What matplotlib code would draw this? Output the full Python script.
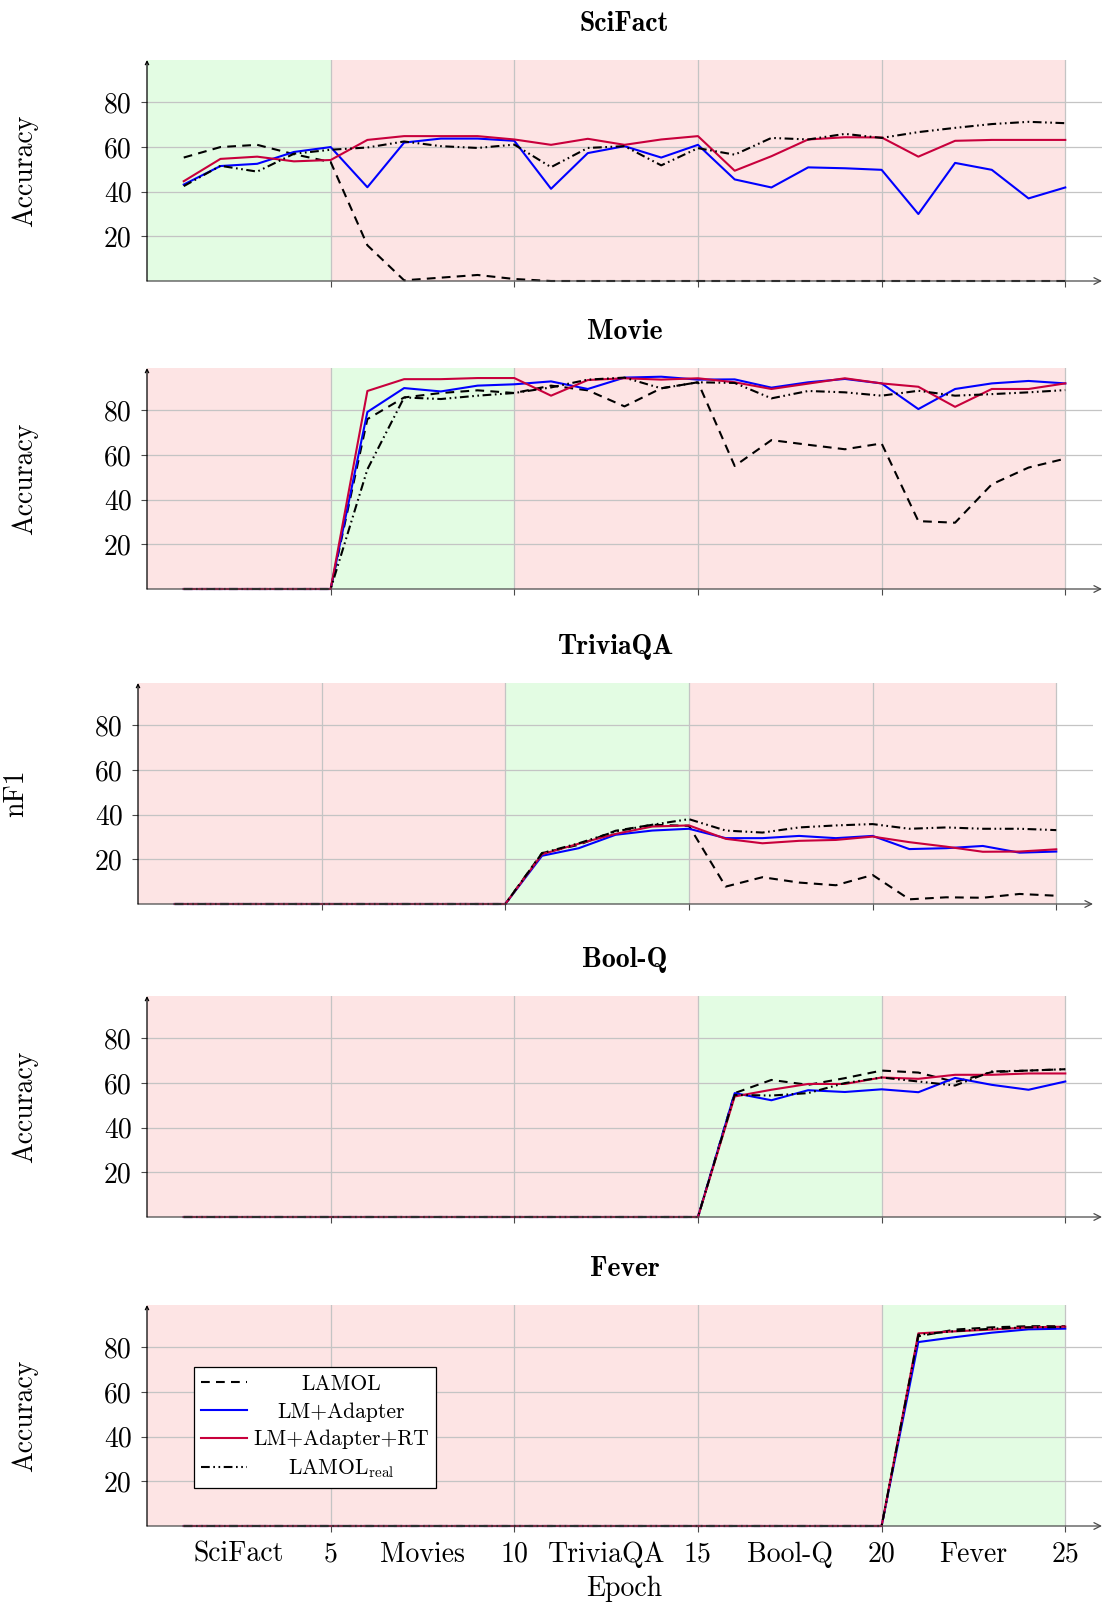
import numpy as np
import matplotlib
matplotlib.use('Agg')
import matplotlib.pyplot as plt
from matplotlib.lines import Line2D

plt.rcParams['font.family'] = 'cmr10'
plt.rcParams['mathtext.fontset'] = 'cm'
plt.rcParams['axes.formatter.use_mathtext'] = True

epochs = np.arange(1, 26)
tasks = ['SciFact', 'Movie', 'TriviaQA', 'Bool-Q', 'Fever']
tick_tasks = ['SciFact', 'Movies', 'TriviaQA', 'Bool-Q', 'Fever']
ylabels = ['Accuracy', 'Accuracy', 'nF1', 'Accuracy', 'Accuracy']

# SciFact
sf_lamol = [55.3, 60, 61, 56.8, 53.3, 16, 0.3, 1.5, 2.7, 0.9, 0, 0, 0, 0, 0, 0, 0, 0, 0, 0, 0, 0, 0, 0, 0]
sf_adapter = [43.2, 51.5, 52.5, 57.8, 60, 42, 62, 63.8, 63.8, 62.8, 41.3, 57.3, 60.4, 55.3, 61,
              45.5, 41.9, 50.9, 50.5, 49.8, 30, 52.9, 49.8, 37, 41.9]
sf_rt = [44.7, 54.7, 55.7, 53.6, 54.2, 63.2, 64.9, 64.9, 64.9, 63.4, 61, 63.7, 61, 63.4, 64.9,
         49.4, 55.9, 63.4, 64.4, 64.3, 55.7, 62.8, 63.2, 63.2, 63.2]
sf_real = [42.5, 51.6, 49, 57, 58.8, 59.8, 62.5, 60.4, 59.6, 61.1, 51, 59.6, 60.4, 51.8, 59.5,
           56.6, 64.1, 63.4, 65.9, 64.1, 66.7, 68.6, 70.3, 71.3, 70.7]

# Movie
mv_lamol = [0, 0, 0, 0, 0, 76.1, 85.8, 87.8, 89, 87.8, 91.1, 89, 81.8, 89.9, 92.6,
            55.1, 66.7, 64.6, 62.6, 65.2, 30.4, 29.7, 46.9, 54.4, 58.4]
mv_adapter = [0, 0, 0, 0, 0, 79.3, 90, 88.5, 91.1, 91.7, 93, 89.6, 94.7, 95.1, 93.8,
              93.9, 90.2, 92.6, 94.1, 92.1, 80.6, 89.6, 92.1, 93.2, 92.1]
mv_rt = [0, 0, 0, 0, 0, 88.7, 94, 94, 94.5, 94.5, 86.6, 93.6, 94.4, 93.8, 94.4,
         92.6, 89.6, 92, 94.4, 92.1, 90.6, 81.6, 89.6, 89.6, 92.1]
mv_real = [0, 0, 0, 0, 0, 53.6, 85.8, 85.1, 86.6, 87.8, 90.3, 93.8, 94.7, 89.9, 92.6,
           92.3, 85.4, 88.7, 88.1, 86.6, 88.8, 86.6, 87.3, 88.1, 89.1]

# TriviaQA
tq_lamol = [0] * 10 + [22.8, 26.5, 32.8, 35.5, 35, 7.8, 12, 9.6, 8.4, 13, 2.1, 3, 2.8, 4.5, 3.7]
tq_adapter = [0] * 10 + [21.6, 25, 31, 32.9, 33.7, 29.5, 29.5, 30.5, 29.5, 30.5, 24.6, 25, 26, 23, 23.5]
tq_rt = [0] * 10 + [22.3, 27, 31.4, 34.7, 35.2, 29.2, 27.2, 28.3, 28.7, 30.2, 27.7, 25.7, 23.4, 23.5, 24.5]
tq_real = [0] * 10 + [22.8, 27.2, 32.5, 35.5, 38, 32.9, 32, 34.3, 35.2, 35.8, 33.7, 34.3, 33.7, 33.7, 33.1]

# Bool-Q
bq_lamol = [0] * 15 + [55.5, 61.4, 59.2, 62.2, 65.6, 64.7, 60.5, 64.9, 65.6, 66.2]
bq_adapter = [0] * 15 + [55.5, 52.3, 56.8, 56, 57.2, 55.9, 62.3, 59.2, 57, 60.7]
bq_rt = [0] * 15 + [54, 57, 59.6, 59.6, 62.5, 61.9, 63.7, 63.7, 64.3, 64.3]
bq_real = [0] * 15 + [54.7, 54.4, 55.5, 60, 62.5, 60.7, 58.9, 65.2, 65.6, 66.2]

# Fever
fv_lamol = [0] * 20 + [85, 88, 89, 89.5, 89.5]
fv_adapter = [0] * 20 + [82.4, 84.6, 86.6, 88.1, 88.4]
fv_rt = [0] * 20 + [86.3, 87.2, 88, 89, 89.3]
fv_real = [0] * 20 + [85.7, 87.3, 88.4, 89, 89.1]

lamol_all = [sf_lamol, mv_lamol, tq_lamol, bq_lamol, fv_lamol]
adapter_all = [sf_adapter, mv_adapter, tq_adapter, bq_adapter, fv_adapter]
rt_all = [sf_rt, mv_rt, tq_rt, bq_rt, fv_rt]
real_all = [sf_real, mv_real, tq_real, bq_real, fv_real]

W, H = 1103, 1602
fig = plt.figure(figsize=(W / 100, H / 100), dpi=100)

pink = '#fde4e4'
green = '#e3fce3'
red = '#c8003c'
axcol = '#4a4a4a'
gridcol = '#c4c4c4'
FS = 20
LW = 1.5

bottoms_px = [281, 589, 904, 1217, 1526]
lefts_px = [147, 147, 138, 147, 147]
ax_w = 955
ax_h = 221

axes = []
for i in range(5):
    ax = fig.add_axes([lefts_px[i] / W, 1 - bottoms_px[i] / H, ax_w / W, ax_h / H])
    axes.append(ax)
    ax.set_xlim(0, 26)
    ax.set_ylim(0, 99)
    # shaded task segments
    for k in range(5):
        ax.axvspan(5 * k, 5 * k + 5, color=green if k == i else pink, lw=0, zorder=0)
    for yv in [20, 40, 60, 80]:
        ax.axhline(yv, color=gridcol, lw=0.9, zorder=1)
    for xv in [5, 10, 15, 20, 25]:
        ax.axvline(xv, color=gridcol, lw=0.9, zorder=1)

    ax.plot(epochs, lamol_all[i], color='black', lw=LW, dashes=(4.2, 3.0), clip_on=False, zorder=3)
    ax.plot(epochs, adapter_all[i], color='#0000ff', lw=LW, clip_on=False, zorder=3)
    ax.plot(epochs, rt_all[i], color=red, lw=LW, clip_on=False, zorder=3)
    ax.plot(epochs, real_all[i], color='black', lw=LW, dashes=(4.2, 1.7, 0.8, 1.7, 0.8, 1.7),
            clip_on=False, zorder=3)

    for s in ax.spines.values():
        s.set_visible(False)
    ax.annotate('', xy=(1, 0), xytext=(0, 0), xycoords='axes fraction',
                arrowprops=dict(arrowstyle='->', color=axcol, lw=0.9, shrinkA=0, shrinkB=0,
                                mutation_scale=12), annotation_clip=False, zorder=4)
    ax.annotate('', xy=(0, 1), xytext=(0, 0), xycoords='axes fraction',
                arrowprops=dict(arrowstyle='->', color='black', lw=0.9, shrinkA=0, shrinkB=0,
                                mutation_scale=6), annotation_clip=False, zorder=4)

    ax.set_yticks([20, 40, 60, 80])
    ax.set_yticklabels(['20', '40', '60', '80'])
    ax.set_xticks([5, 10, 15, 20, 25])
    ax.tick_params(axis='both', which='major', labelsize=FS, length=4, width=0.8, color=axcol, pad=7)
    ax.set_title(tasks[i], fontfamily='cmb10', fontsize=FS, pad=21)

    fig.text((lefts_px[i] - 122) / W, 1 - (bottoms_px[i] - ax_h / 2) / H, ylabels[i],
             rotation=90, ha='center', va='center', fontsize=FS)

    if i < 4:
        ax.set_xticklabels([])
    else:
        ax.set_xticklabels(['5', '10', '15', '20', '25'])
        ax.set_xticks([2.5, 7.5, 12.5, 17.5, 22.5], minor=True)
        ax.set_xticklabels(tick_tasks, minor=True)
        ax.tick_params(axis='x', which='minor', length=0, labelsize=FS, pad=11)
        ax.set_xlabel('Epoch', fontsize=FS, labelpad=6)

# legend in the last panel
handles = [
    Line2D([], [], color='black', lw=LW, dashes=(4.2, 3.0)),
    Line2D([], [], color='#0000ff', lw=LW),
    Line2D([], [], color=red, lw=LW),
    Line2D([], [], color='black', lw=LW, dashes=(4.2, 1.7, 0.8, 1.7, 0.8, 1.7)),
]
labels = ['LAMOL', 'LM+Adapter', 'LM+Adapter+RT', r'LAMOL$_{\mathrm{real}}$']
leg = axes[4].legend(handles, labels, loc='upper left', bbox_to_anchor=(0.049, 0.72),
                     fontsize=15.5, frameon=True, fancybox=False, framealpha=1,
                     edgecolor='black', handlelength=2.1, handletextpad=0.3,
                     borderpad=0.35, labelspacing=0.38, borderaxespad=0)
leg.get_frame().set_linewidth(0.9)
leg.set_zorder(5)

# center the legend texts like the original
fig.canvas.draw()
r = fig.canvas.get_renderer()
widths = [t.get_window_extent(r).width for t in leg.get_texts()]
mw = max(widths)
for t, w in zip(leg.get_texts(), widths):
    t.set_x((mw - w) / 2)

fig.savefig('out.png', dpi=100)
